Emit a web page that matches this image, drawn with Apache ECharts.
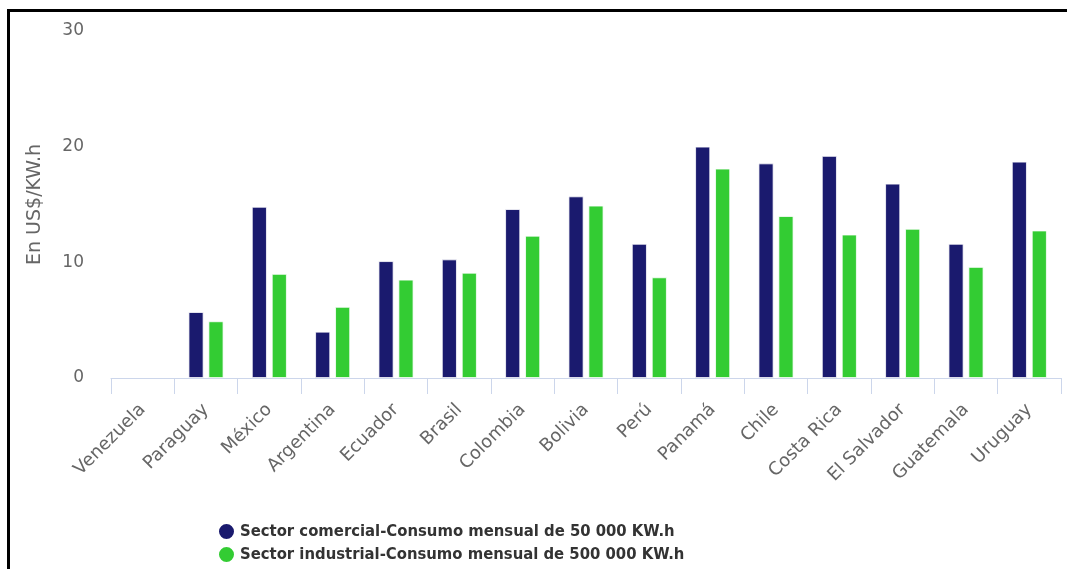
<!DOCTYPE html>
<html>
<head>
<meta charset="utf-8">
<script src="https://cdn.jsdelivr.net/npm/echarts@6/dist/echarts.min.js"></script>
<style>
  html, body { margin: 0; padding: 0; background: #fff; overflow: hidden; }
  #frame {
    position: absolute; left: 7px; top: 9px; width: 1200px; height: 700px;
    border-left: 3px solid #000; border-top: 3px solid #000; box-sizing: border-box;
  }
  #chart { position: absolute; left: 0; top: 0; width: 1067px; height: 569px; }
</style>
</head>
<body>
<div id="frame"></div>
<div id="chart"></div>
<script>
// Electricity price per kWh by country (US$/KW.h); Venezuela has no data
const countries = ['Venezuela', 'Paraguay', 'México', 'Argentina', 'Ecuador', 'Brasil', 'Colombia',
  'Bolivia', 'Perú', 'Panamá', 'Chile', 'Costa Rica', 'El Salvador', 'Guatemala', 'Uruguay'];
const comercial = [null, 5.7, 14.8, 4.0, 10.1, 10.25, 14.6, 15.7, 11.6, 20.0, 18.55, 19.2, 16.8, 11.6, 18.7];
const industrial = [null, 4.9, 9.0, 6.15, 8.5, 9.1, 12.3, 14.9, 8.7, 18.1, 14.0, 12.4, 12.9, 9.6, 12.75];
const yTicks = [0, 10, 20, 30];

const seriesNames = [
  'Sector comercial-Consumo mensual de 50 000 KW.h',
  'Sector industrial-Consumo mensual de 500 000 KW.h'
];

const chart = echarts.init(document.getElementById('chart'), null, { renderer: 'canvas' });
const font = 'DejaVu Sans, Verdana, sans-serif';
const legendText = { fontFamily: 'DejaVu Sans Condensed, DejaVu Sans, sans-serif', fontSize: 16.5, fontWeight: 'bold', color: '#333' };

function legendRow(name, top) {
  return {
    orient: 'vertical', left: 212, top: top, icon: 'circle',
    itemWidth: 17, itemHeight: 17, itemGap: 6,
    textStyle: legendText, data: [name]
  };
}

chart.setOption({
  animation: false,
  textStyle: { fontFamily: font },
  grid: { left: 111, right: 6, top: 31, bottom: 191, containLabel: false },
  legend: [legendRow(seriesNames[0], 517), legendRow(seriesNames[1], 540)],
  xAxis: {
    type: 'category',
    data: countries,
    axisLine: { lineStyle: { color: '#ccd6eb', width: 1 } },
    axisTick: { show: true, length: 16, lineStyle: { color: '#ccd6eb' } },
    axisLabel: { rotate: 45, interval: 0, margin: 29, fontSize: 18, color: '#666', fontFamily: font }
  },
  yAxis: {
    type: 'value',
    min: yTicks[0],
    max: yTicks[yTicks.length - 1],
    interval: 10,
    name: 'En US$/KW.h',
    nameLocation: 'middle',
    nameGap: 66,
    nameTextStyle: { fontSize: 19, color: '#666', fontFamily: font },
    splitLine: { show: false },
    axisLine: { show: false },
    axisTick: { show: false },
    axisLabel: { margin: 27, fontSize: 17, color: '#666', fontFamily: font }
  },
  series: [
    {
      name: seriesNames[0], type: 'bar', data: comercial,
      barWidth: 15, barGap: '33%',
      itemStyle: { color: '#1a1a6e', borderColor: '#fff', borderWidth: 0.8 }
    },
    {
      name: seriesNames[1], type: 'bar', data: industrial,
      barWidth: 15, barGap: '33%',
      itemStyle: { color: '#33cc33', borderColor: '#fff', borderWidth: 0.8 }
    }
  ]
});
</script>
</body>
</html>
